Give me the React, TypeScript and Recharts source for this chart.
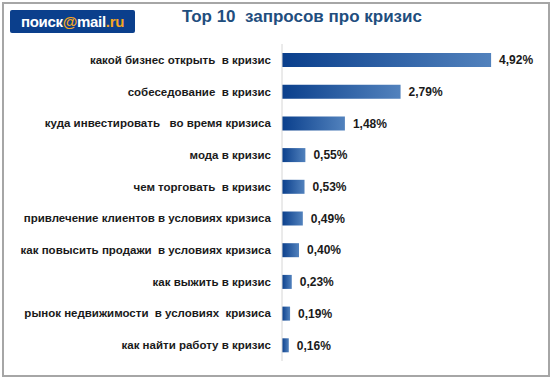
import React from 'react';
import { BarChart, Bar, XAxis, YAxis, LabelList } from 'recharts';

const queries = [
  'какой бизнес открыть  в кризис',
  'собеседование  в кризис',
  'куда инвестировать   во время кризиса',
  'мода в кризис',
  'чем торговать  в кризис',
  'привлечение клиентов в условиях кризиса',
  'как повысить продажи  в условиях кризиса',
  'как выжить в кризис',
  'рынок недвижимости  в условиях  кризиса',
  'как найти работу в кризис',
];
const shares = [4.92, 2.79, 1.48, 0.55, 0.53, 0.49, 0.4, 0.23, 0.19, 0.16];

const data = queries.map((name, i) => ({ name, value: shares[i] }));

const fmtPct = (v: number) => `${v.toFixed(2).replace('.', ',')}%`;

// plain single-line tick, keeps the double spaces of the original labels
const QueryTick = ({ x, y, payload }: any) => (
  <text
    x={x - 3}
    y={y}
    dy={4}
    textAnchor="end"
    fontSize={11.5}
    fontWeight="bold"
    fill="#1a1a1a"
    style={{ whiteSpace: 'pre' }}
  >
    {payload.value}
  </text>
);

export default function App() {
  return (
    <div style={{ position: 'absolute', left: 0, top: 0, width: 550, height: 377, background: '#fff', fontFamily: 'Arial, "Liberation Sans", sans-serif' }}>
      <div style={{ position: 'absolute', left: 2, top: 2, width: 544, height: 371, border: '2px solid #a6a6a6' }} />
      <div
        style={{
          position: 'absolute', left: 10, top: 10, width: 125, height: 23,
          background: '#0b3f8c', borderRadius: 2, color: '#fff',
          fontSize: 15, fontWeight: 'bold', lineHeight: '23px', textAlign: 'center',
          letterSpacing: -0.3,
        }}
      >
        поиск<span style={{ color: '#f5a623' }}>@</span>mail<span style={{ color: '#f5a623' }}>.ru</span>
      </div>
      <div
        style={{
          position: 'absolute', left: 180, top: 7, width: 244, textAlign: 'center',
          fontSize: 17, fontWeight: 'bold', color: '#1f4e7e', whiteSpace: 'pre',
        }}
      >
        Top 10  запросов про кризис
      </div>
      <BarChart
        width={550}
        height={377}
        data={data}
        layout="vertical"
        margin={{ top: 44, right: 13, bottom: 16, left: 0 }}
        barSize={14}
        style={{ position: 'absolute', left: 0, top: 0 }}
      >
        <defs>
          <linearGradient id="barGrad" x1="0" y1="0" x2="1" y2="0">
            <stop offset="0%" stopColor="#0a3f8c" />
            <stop offset="100%" stopColor="#5282bd" />
          </linearGradient>
        </defs>
        <XAxis
          type="number"
          orientation="top"
          domain={[0, 6]}
          height={0}
          tick={false}
          tickLine={false}
          axisLine={{ stroke: '#c8c8c8' }}
        />
        <YAxis
          type="category"
          dataKey="name"
          width={282}
          tickLine={false}
          axisLine={{ stroke: '#d6d6d6' }}
          tick={<QueryTick />}
          interval={0}
        />
        <Bar dataKey="value" fill="url(#barGrad)" isAnimationActive={false}>
          <LabelList
            dataKey="value"
            position="right"
            offset={8}
            formatter={(v: number) => fmtPct(v)}
            style={{ fontSize: 12, fontWeight: 'bold', fill: '#1a1a1a' }}
          />
        </Bar>
      </BarChart>
    </div>
  );
}
